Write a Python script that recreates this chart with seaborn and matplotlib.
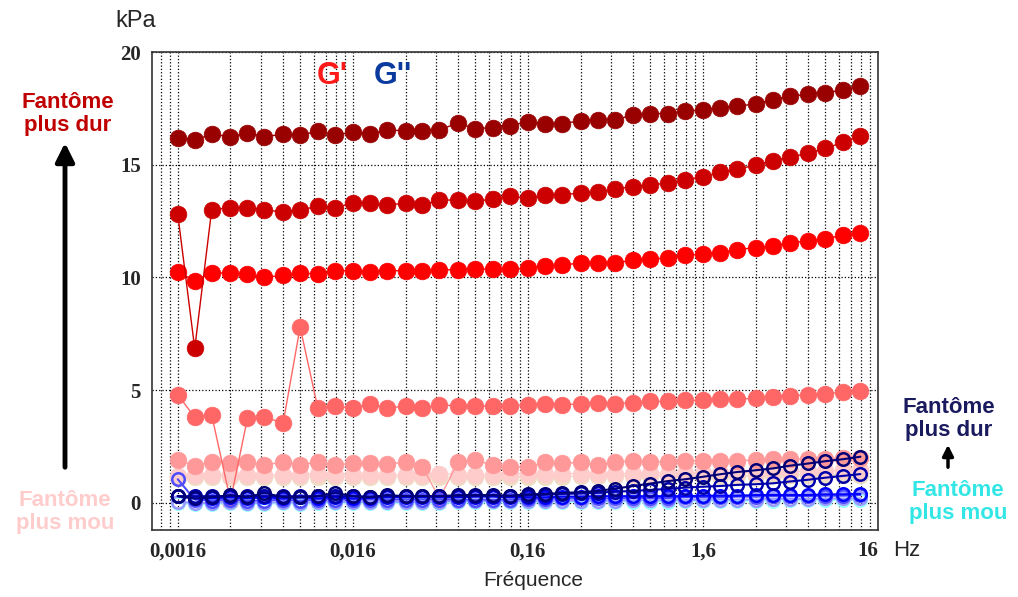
import numpy as np
import pandas as pd
import seaborn as sns
import matplotlib.pyplot as plt
from matplotlib.ticker import FixedLocator, NullFormatter

# --- Data: frequency sweep (10 points per decade) ---
freq_hz = [0.0016, 0.0020, 0.0025, 0.0032, 0.0040, 0.0050, 0.0064, 0.0080, 0.0101, 0.0127,
           0.016, 0.020, 0.025, 0.032, 0.040, 0.050, 0.064, 0.080, 0.101, 0.127,
           0.16, 0.20, 0.25, 0.32, 0.40, 0.50, 0.64, 0.80, 1.01, 1.27,
           1.6, 2.0, 2.5, 3.2, 4.0, 5.0, 6.4, 8.0, 10.1, 12.7]

# G' (kPa), from the softest phantom to the hardest one
gp_beige = [1.1, 1.15, 1.15, 1.15, 1.15, 1.15, 1.15, 1.15, 1.15, 1.15, 1.15, 1.15, 1.15, 1.15, 1.15, 1.15, 1.15, 1.15, 1.15, 1.15,
            1.15, 1.15, 1.15, 1.2, 1.2, 1.2, 1.2, 1.2, 1.2, 1.2, 1.2, 1.2, 1.2, 1.2, 1.25, 1.25, 1.25, 1.25, 1.25, 1.25]
gp_pink = [1.2, 1.25, 1.25, 1.25, 1.25, 1.25, 1.25, 1.25, 1.3, 1.25, 1.25, 1.25, 1.25, 1.25, 1.25, 1.3, 1.25, 1.25, 1.25, 1.3,
           1.3, 1.3, 1.3, 1.3, 1.3, 1.3, 1.3, 1.35, 1.3, 1.35, 1.35, 1.35, 1.35, 1.35, 1.4, 1.4, 1.4, 1.4, 1.45, 1.45]
gp_rose = [1.9, 1.65, 1.82, 1.78, 1.82, 1.68, 1.82, 1.68, 1.82, 1.68, 1.75, 1.75, 1.71, 1.82, 1.6, 0.2, 1.82, 1.9, 1.68, 1.6,
           1.6, 1.8, 1.75, 1.8, 1.68, 1.82, 1.87, 1.82, 1.82, 1.87, 1.87, 1.87, 1.87, 1.9, 1.93, 1.93, 1.97, 1.97, 1.99, 2.0]
gp_salmon = [4.8, 3.8, 3.9, 0.1, 3.75, 3.8, 3.55, 7.8, 4.2, 4.3, 4.2, 4.4, 4.2, 4.3, 4.2, 4.35, 4.3, 4.3, 4.3, 4.3,
             4.35, 4.4, 4.35, 4.4, 4.45, 4.4, 4.45, 4.5, 4.5, 4.55, 4.55, 4.6, 4.6, 4.65, 4.7, 4.75, 4.8, 4.85, 4.9, 4.95]
gp_red = [10.25, 9.85, 10.2, 10.2, 10.15, 10.0, 10.1, 10.2, 10.15, 10.3, 10.3, 10.25, 10.3, 10.3, 10.3, 10.35, 10.33, 10.39, 10.36, 10.36,
          10.41, 10.51, 10.55, 10.64, 10.65, 10.65, 10.76, 10.8, 10.88, 11.0, 11.02, 11.1, 11.24, 11.32, 11.39, 11.54, 11.61, 11.71, 11.88, 11.97]
gp_crimson = [12.8, 6.85, 13.0, 13.1, 13.1, 13.0, 12.9, 13.0, 13.15, 13.1, 13.3, 13.3, 13.2, 13.3, 13.2, 13.45, 13.42, 13.38, 13.48, 13.6,
              13.52, 13.64, 13.67, 13.74, 13.79, 13.92, 14.03, 14.11, 14.18, 14.33, 14.47, 14.66, 14.8, 14.98, 15.17, 15.33, 15.51, 15.73, 15.99, 16.29]
gp_darkred = [16.2, 16.1, 16.35, 16.25, 16.4, 16.25, 16.35, 16.3, 16.5, 16.3, 16.45, 16.35, 16.55, 16.5, 16.5, 16.55, 16.85, 16.6, 16.65, 16.73,
              16.91, 16.79, 16.82, 16.95, 17.0, 17.0, 17.2, 17.27, 17.27, 17.38, 17.42, 17.53, 17.6, 17.69, 17.89, 18.03, 18.13, 18.2, 18.31, 18.49]

# G'' (kPa), from the softest phantom to the hardest one
gpp_cyan = [0.0, -0.05, -0.05, 0.0, -0.05, -0.05, 0.0, -0.05, 0.0, 0.0, 0.0, 0.0, 0.0, 0.0, 0.0, 0.0, 0.02, 0.02, 0.02, 0.02,
            0.03, 0.03, 0.05, 0.05, 0.05, 0.05, 0.06, 0.06, 0.06, 0.08, 0.08, 0.08, 0.1, 0.1, 0.1, 0.12, 0.12, 0.12, 0.15, 0.15]
gpp_light = [0.05, 0.0, 0.0, 0.05, 0.0, 0.0, 0.05, 0.0, 0.05, 0.05, 0.05, 0.05, 0.05, 0.05, 0.05, 0.05, 0.08, 0.08, 0.08, 0.08,
             0.08, 0.08, 0.1, 0.1, 0.1, 0.1, 0.12, 0.12, 0.12, 0.12, 0.15, 0.15, 0.15, 0.15, 0.18, 0.18, 0.18, 0.2, 0.2, 0.2]
gpp_medium = [1.05, 0.15, 0.1, 0.15, 0.1, 0.1, 0.15, 0.1, 0.15, 0.15, 0.15, 0.15, 0.15, 0.15, 0.15, 0.15, 0.15, 0.15, 0.15, 0.15,
              0.18, 0.18, 0.2, 0.2, 0.2, 0.2, 0.22, 0.22, 0.22, 0.25, 0.25, 0.25, 0.28, 0.28, 0.3, 0.3, 0.3, 0.32, 0.32, 0.35]
gpp_blue = [0.3, 0.2, 0.2, 0.25, 0.2, 0.25, 0.2, 0.25, 0.2, 0.25, 0.2, 0.22, 0.25, 0.25, 0.25, 0.25, 0.25, 0.28, 0.28, 0.25,
            0.25, 0.25, 0.28, 0.28, 0.3, 0.3, 0.3, 0.3, 0.3, 0.3, 0.32, 0.32, 0.32, 0.35, 0.35, 0.35, 0.35, 0.38, 0.38, 0.4]
gpp_navy = [0.3, 0.3, 0.3, 0.3, 0.3, 0.3, 0.3, 0.3, 0.3, 0.3, 0.3, 0.28, 0.3, 0.3, 0.3, 0.3, 0.3, 0.3, 0.32, 0.3,
            0.33, 0.36, 0.4, 0.42, 0.45, 0.5, 0.53, 0.58, 0.62, 0.68, 0.72, 0.75, 0.8, 0.83, 0.87, 0.95, 1.03, 1.12, 1.2, 1.28]
gpp_darknavy = [0.3, 0.2, 0.25, 0.35, 0.25, 0.45, 0.25, 0.25, 0.3, 0.45, 0.3, 0.25, 0.35, 0.3, 0.3, 0.3, 0.35, 0.35, 0.35, 0.32,
                0.38, 0.4, 0.44, 0.48, 0.53, 0.63, 0.75, 0.86, 0.97, 1.05, 1.16, 1.27, 1.37, 1.45, 1.53, 1.65, 1.75, 1.85, 1.94, 2.05]

gp_series = [gp_beige, gp_pink, gp_rose, gp_salmon, gp_red, gp_crimson, gp_darkred]
gp_colors = ["#eedcc4", "#ffcccc", "#ff9999", "#ff6666", "#ff0000", "#cc0000", "#990000"]
gpp_series = [gpp_cyan, gpp_light, gpp_medium, gpp_blue, gpp_navy, gpp_darknavy]
gpp_colors = ["#99ffff", "#9999ff", "#4d4dff", "#0000ff", "#0000aa", "#000077"]

xtick_vals = [0.0016, 0.016, 0.16, 1.6, 16]
xtick_labels = ["0,0016", "0,016", "0,16", "1,6", "16"]
ytick_vals = [0, 5, 10, 15, 20]

# --- Plot ---
sns.set_style("white")
plt.rcParams['font.family'] = ['Liberation Sans', 'DejaVu Sans']

W, H = 1018, 597
fig, ax = plt.subplots(figsize=(W / 100, H / 100), dpi=100)
fig.subplots_adjust(left=152 / W, right=878 / W, bottom=1 - 530 / H, top=1 - 52 / H)


def px(x, y):
    return x / W, 1 - y / H


for vals, col in zip(gp_series, gp_colors):
    sns.lineplot(x=freq_hz, y=vals, color=col, marker="o", markersize=12,
                 markeredgecolor=col, markeredgewidth=0.5, linewidth=1,
                 ax=ax, legend=False)

for vals, col in zip(gpp_series, gpp_colors):
    sns.lineplot(x=freq_hz, y=vals, color=col, marker="o", markersize=9,
                 markerfacecolor="none", markeredgecolor=col, markeredgewidth=1.8,
                 linewidth=1.5, ax=ax, legend=False)

ax.set_xscale("log")
ax.set_xlim(0.00114, 16)
ax.set_ylim(-1.2, 20)

minor_pos = [0.0016 * m * 10.0 ** d for d in range(-1, 4) for m in range(2, 10)]
minor_pos = [p for p in minor_pos if 0.00114 < p < 16]
ax.xaxis.set_major_locator(FixedLocator(xtick_vals))
ax.xaxis.set_minor_locator(FixedLocator(minor_pos))
ax.xaxis.set_minor_formatter(NullFormatter())
ax.set_xticklabels(xtick_labels)
ax.set_yticks(ytick_vals)
ax.set_yticklabels([str(v) for v in ytick_vals])

for lab in ax.get_xticklabels() + ax.get_yticklabels():
    lab.set_family("Liberation Serif")
    lab.set_fontweight("bold")
    lab.set_fontsize(15)
ax.get_xticklabels()[-1].set_ha("right")

ax.tick_params(axis="both", which="major", direction="in", length=6, width=1, pad=8,
               top=False, right=False)
ax.tick_params(axis="x", which="minor", direction="in", length=3, width=0.8)

ax.grid(True, which="both", axis="x", linestyle=":", color="black", linewidth=0.9)
ax.grid(True, which="major", axis="y", linestyle=":", color="black", linewidth=0.9)
ax.set_axisbelow(True)
for sp in ax.spines.values():
    sp.set_color("#333333")
    sp.set_linewidth(1.2)

ax.set_xlabel("")
ax.set_ylabel("")

# --- Annotations ---
fig.text(*px(136, 21), "kPa", ha="center", va="center", fontsize=17)
fig.text(*px(907, 550), "Hz", ha="center", va="center", fontsize=16)
fig.text(*px(533, 580), "Fréquence", ha="center", va="center", fontsize=15)
fig.text(*px(332, 76), "G'", ha="center", va="center", fontsize=22,
         fontweight="bold", color="#ff1a1a")
fig.text(*px(393, 76), "G''", ha="center", va="center", fontsize=22,
         fontweight="bold", color="#0a3a9e")

fig.text(*px(68, 114), "Fantôme\nplus dur", ha="center", va="center", fontsize=16,
         fontweight="bold", color="#c00000", linespacing=1.15)
fig.text(*px(65, 512), "Fantôme\nplus mou", ha="center", va="center", fontsize=16,
         fontweight="bold", color="#ffcccc", linespacing=1.15)
ax.annotate("", xy=px(65, 140), xytext=px(65, 470), xycoords="figure fraction",
            textcoords="figure fraction", annotation_clip=False,
            arrowprops=dict(arrowstyle="-|>", lw=3.5, color="black", mutation_scale=28))

fig.text(*px(949, 419), "Fantôme\nplus dur", ha="center", va="center", fontsize=16,
         fontweight="bold", color="#1a1a5e", linespacing=1.15)
fig.text(*px(958, 502), "Fantôme\nplus mou", ha="center", va="center", fontsize=16,
         fontweight="bold", color="#33e6e6", linespacing=1.15)
ax.annotate("", xy=px(948, 442), xytext=px(948, 470), xycoords="figure fraction",
            textcoords="figure fraction", annotation_clip=False,
            arrowprops=dict(arrowstyle="-|>", lw=2.5, color="black", mutation_scale=16))

fig.savefig("out.png", dpi=100)
